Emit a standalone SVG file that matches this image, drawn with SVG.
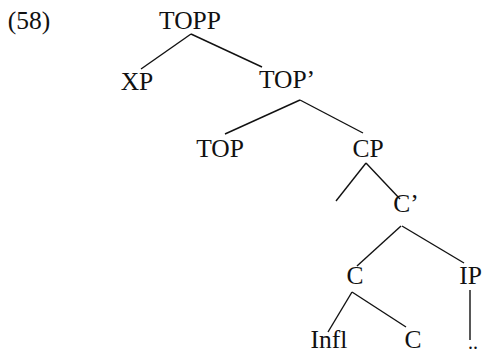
<svg xmlns="http://www.w3.org/2000/svg" width="483" height="354" viewBox="0 0 483 354">
<style>
text{font-family:"Liberation Serif","Times New Roman",serif;font-size:25.5px;fill:#111;text-anchor:middle}
.e{stroke:#111;stroke-width:1.4;fill:none}
</style>
<rect width="483" height="354" fill="#fff"/>
<text x="29" y="29">(58)</text>
<g id="connectors">
<line class="e" x1="191" y1="34" x2="141" y2="69"/>
<line class="e" x1="191" y1="34" x2="262" y2="67"/>
<line class="e" x1="300" y1="100" x2="225" y2="134"/>
<line class="e" x1="300" y1="100" x2="363" y2="133"/>
<line class="e" x1="366" y1="163" x2="336" y2="201"/>
<line class="e" x1="366" y1="163" x2="400" y2="199"/>
<line class="e" x1="401" y1="226" x2="357" y2="266"/>
<line class="e" x1="402" y1="226" x2="464" y2="263"/>
<line class="e" x1="352" y1="292" x2="328" y2="332"/>
<line class="e" x1="352" y1="292" x2="406" y2="327"/>
<line class="e" x1="470" y1="290" x2="470" y2="340"/>
</g>
<g id="TOPP"><text x="190" y="29">TOPP</text></g>
<g id="XP"><text x="137" y="90">XP</text></g>
<g id="TOPbar"><text x="287" y="88">TOP’</text></g>
<g id="TOP"><text x="220" y="157">TOP</text></g>
<g id="CP"><text x="368" y="157">CP</text></g>
<g id="Cbar"><text x="406" y="212">C’</text></g>
<g id="C1"><text x="355" y="284">C</text></g>
<g id="IP"><text x="470.5" y="284">IP</text></g>
<g id="Infl"><text x="329" y="348">Infl</text></g>
<g id="C2"><text x="413" y="348">C</text></g>
<g id="dots"><text x="473" y="349" style="font-size:20px">..</text></g>
</svg>
